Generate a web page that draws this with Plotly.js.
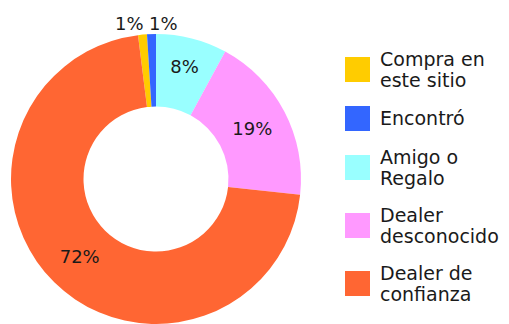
<!DOCTYPE html>
<html>
<head>
<meta charset="utf-8">
<script src="https://cdn.plot.ly/plotly-3.0.1.min.js"></script>
<style>
  html, body { margin: 0; padding: 0; background: #fff; }
  #chart { width: 509px; height: 324px; }
</style>
</head>
<body>
<div id="chart"></div>
<script>
// Categories (legend text uses <br> for its line breaks), shares in percent, slice colours
const categories = ['Compra en<br>este sitio', 'Encontró', 'Amigo o<br>Regalo', 'Dealer<br>desconocido', 'Dealer de<br>confianza'];
const shares = [1, 1, 8, 19, 72];
const colors = ['#FFCC00', '#3366FF', '#99FFFF', '#FF99FF', '#FF6633'];

const W = 509, H = 324;
const FONT = 'DejaVu Sans, sans-serif';
const TEXT_COLOR = '#1a1a1a';
const SMALL = 3; // slices below this share get their label outside the ring

// Start the first two slices just left of 12 o'clock so the third starts at the top
const total = shares.reduce((a, b) => a + b, 0);
const rotation = -360 * (shares[0] + shares[1]) / total;

// Ring geometry in pixels (domain spans the left part of the figure)
const domX = [11 / W, 301 / W], domY = [0, 0.895];
const cx = (domX[0] + domX[1]) / 2 * W;
const cy = H - (domY[0] + domY[1]) / 2 * H;
const R = Math.min((domX[1] - domX[0]) * W, (domY[1] - domY[0]) * H) / 2;

const pie = {
  type: 'pie',
  labels: categories.map(c => c.replace('<br>', ' ')),
  values: shares,
  sort: false,
  direction: 'clockwise',
  rotation: rotation,
  hole: 0.5,
  marker: { colors: colors, line: { width: 0 } },
  texttemplate: '%{value}%',
  textposition: shares.map(v => v < SMALL ? 'none' : 'inside'),
  insidetextorientation: 'horizontal',
  textfont: { family: FONT, size: 18, color: TEXT_COLOR },
  domain: { x: domX, y: domY },
  showlegend: false,
  hoverinfo: 'label+percent'
};

const px = x => x / W;
const py = y => 1 - y / H;
const shapes = [];
const annotations = [];

// Outside labels for the thin slices, set side by side around their shared edge
let acc = 0;
const small = [];
shares.forEach((v, i) => {
  const a0 = rotation + 360 * acc / total;
  acc += v;
  const a1 = rotation + 360 * acc / total;
  if (v < SMALL) small.push({ i, a0, a1 });
});
for (let k = 0; k + 1 < small.length; k += 2) {
  const edge = small[k].a1 * Math.PI / 180;
  const ex = cx + (R + 12) * Math.sin(edge);
  const ey = cy - R - 11;
  [[small[k], 'right', -1.5], [small[k + 1], 'left', 1.5]].forEach(([s, anchor, dx]) => {
    annotations.push({
      xref: 'paper', yref: 'paper', x: px(ex + dx), y: py(ey),
      xanchor: anchor, yanchor: 'middle', showarrow: false, borderpad: 0,
      text: shares[s.i] + '%', font: { family: FONT, size: 18, color: TEXT_COLOR }
    });
  });
}

// Legend drawn as square swatches with labels on the right
const LINE_H = 18, ITEM_GAP = 22, SW = 25, LINE_PULL = 1.5;
let prevH = null, center = 69.5;
categories.forEach((cat, i) => {
  const lines = cat.split('<br>');
  const h = lines.length * LINE_H + ITEM_GAP;
  if (prevH !== null) center += (prevH + h) / 2;
  prevH = h;
  shapes.push({
    type: 'rect', xref: 'paper', yref: 'paper',
    x0: px(345), x1: px(345 + SW), y0: py(center + SW / 2), y1: py(center - SW / 2),
    fillcolor: colors[i], line: { width: 0 }
  });
  lines.forEach((ln, j) => {
    let y = center, anchor = 'middle';
    if (lines.length === 2) {
      anchor = j === 0 ? 'bottom' : 'top';
      y = center + (j === 0 ? LINE_PULL : -LINE_PULL);
    }
    annotations.push({
      xref: 'paper', yref: 'paper', x: px(379), y: py(y),
      xanchor: 'left', yanchor: anchor, showarrow: false, borderpad: 0,
      text: ln, font: { family: FONT, size: 19, color: TEXT_COLOR }
    });
  });
});

const layout = {
  width: W, height: H,
  margin: { l: 0, r: 0, t: 0, b: 0 },
  paper_bgcolor: '#ffffff',
  showlegend: false,
  shapes: shapes,
  annotations: annotations
};

Plotly.newPlot('chart', [pie], layout, { displayModeBar: false, staticPlot: true });
</script>
</body>
</html>
